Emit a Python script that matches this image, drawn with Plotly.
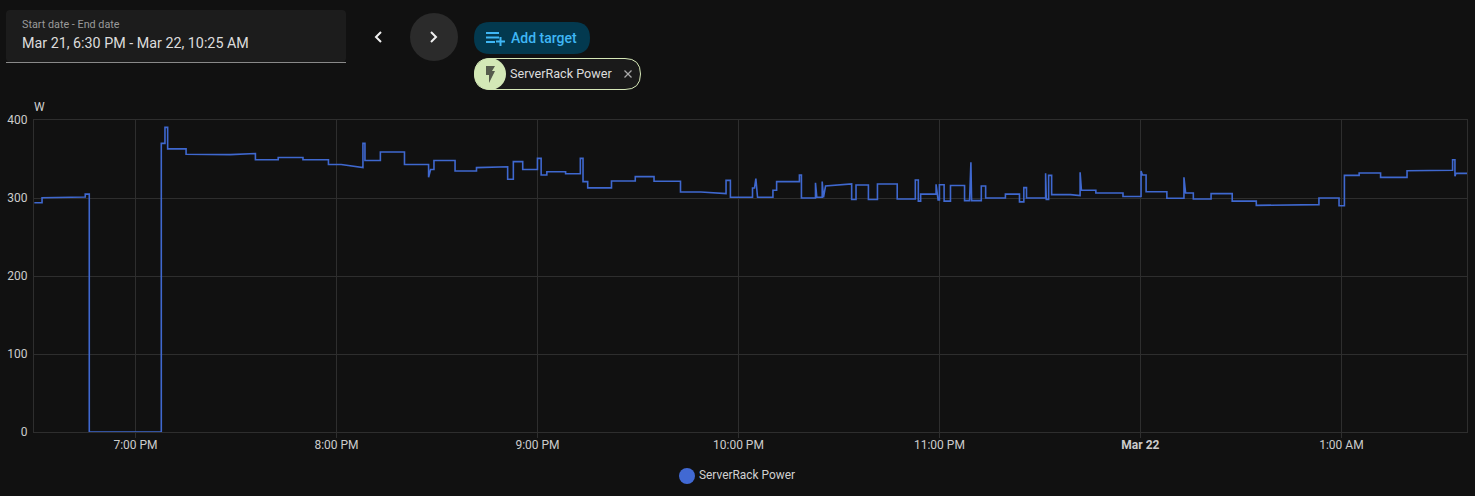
import pandas as pd
import plotly.graph_objects as go

# Power readings: minutes after 18:30 and watts at each vertex of the trace
minutes = [
    0, 2.3, 2.3, 15.2, 15.2, 16.4, 16.4, 37.9, 37.9, 39.0, 39.0, 39.8, 39.8, 45.3, 45.3, 58.5, 66.0, 66.0,
    72.8, 72.8, 80.2, 80.2, 87.8, 87.8, 91.6, 98.1, 98.1, 98.7, 98.7, 103.3, 103.3, 110.5, 110.5, 117.7,
    117.7, 118.3, 119.3, 119.3, 125.6, 125.6, 132.0, 132.0, 141.3, 141.3, 143.0, 143.0, 145.8, 145.8,
    150.2, 150.2, 151.3, 151.3, 153.0, 153.0, 158.6, 158.6, 163.0, 163.0, 163.8, 163.8, 165.2, 165.2,
    172.3, 172.3, 179.4, 179.4, 185.0, 185.0, 192.9, 192.9, 199.0, 206.5, 206.5, 207.8, 207.8, 214.4,
    214.4, 215.0, 215.4, 215.9, 220.5, 220.5, 221.6, 221.6, 228.4, 228.4, 229.0, 229.0, 233.2, 233.2,
    233.6, 235.2, 235.2, 235.6, 236.2, 244.0, 244.0, 245.3, 245.3, 249.0, 249.0, 251.7, 251.7, 257.6,
    257.6, 263.0, 263.0, 263.9, 263.9, 264.6, 264.6, 269.2, 269.2, 269.8, 270.2, 270.2, 271.6, 271.6,
    273.5, 273.5, 277.7, 277.7, 279.2, 279.6, 279.8, 282.7, 282.7, 284.0, 284.0, 289.9, 289.9, 294.1,
    294.1, 295.4, 295.4, 296.2, 296.2, 301.9, 301.9, 302.1, 302.8, 302.8, 303.7, 303.7, 309.3, 312.2,
    312.2, 312.6, 316.9, 316.9, 325.0, 325.0, 330.4, 330.4, 330.8, 331.9, 331.9, 338.1, 338.1, 343.2,
    343.2, 343.7, 346.0, 346.0, 351.3, 351.3, 357.6, 357.6, 364.8, 364.8, 383.5, 383.5, 389.5, 389.5,
    391.1, 391.1, 395.5, 395.5, 401.9, 401.9, 409.8, 409.8, 423.4, 423.4, 424.1, 424.1, 424.4, 427.8,
]
watts = [
    294, 294, 300.4, 301.3, 305, 305, 0, 0, 370, 370, 390.6, 390.6, 363, 363, 356, 355.6, 357, 349,
    349, 352, 352, 349, 349, 343, 343, 339, 370, 370, 348, 348, 359, 359, 343, 343,
    326.5, 336.6, 336.6, 348, 348, 334.6, 334.6, 339, 340, 324, 324, 346.6, 346.6, 336.6,
    336.6, 350.8, 350.8, 329.5, 329.5, 333.7, 333.7, 331, 331, 350.8, 350.8, 321, 321, 313,
    313, 321.8, 321.8, 327.4, 327.4, 321.4, 321.4, 307.7, 307.7, 305.6, 322.6, 322.6, 300.9, 300.9,
    312.8, 312.8, 325, 301, 301, 310, 310, 321, 321, 329.5, 329.5, 300, 300, 319.6,
    300.9, 300.9, 321, 300.9, 315.4, 318, 298, 298, 316.7, 316.7, 298, 298, 318, 318,
    298.7, 298.7, 323, 323, 296, 296, 305, 305, 317.5, 297.4, 297.4, 317, 317, 296,
    296, 316, 316, 296.6, 296.6, 345.7, 296.6, 296.6, 315.4, 315.4, 300, 300, 305, 305,
    295, 295, 313.3, 313.3, 300, 300, 331.6, 298.3, 298.3, 329, 329, 304.3, 304.3, 303,
    333, 310, 310, 306.4, 306.4, 302, 302, 334.6, 329.5, 329.5, 308, 308, 299.6, 299.6,
    326.5, 306.4, 306.4, 298.7, 298.7, 305.6, 305.6, 296, 296, 290.6, 291.5, 300, 300, 290,
    290, 329, 329, 332, 332, 326.5, 326.5, 335, 335.5, 349, 349, 328, 331.6, 331.6,
]
hour_ticks = ["2024-03-21 19:00", "2024-03-21 20:00", "2024-03-21 21:00", "2024-03-21 22:00",
              "2024-03-21 23:00", "2024-03-22 00:00", "2024-03-22 01:00"]
hour_labels = ["7:00 PM", "8:00 PM", "9:00 PM", "10:00 PM", "11:00 PM", "<b>Mar 22</b>", "1:00 AM"]
y_ticks = [0, 100, 200, 300, 400]
series_name = "ServerRack Power"
date_caption = "Start date - End date"
date_range = "Mar 21, 6:30 PM - Mar 22, 10:25 AM"

WIDTH, HEIGHT = 1475, 496
LEFT, RIGHT, TOP, BOTTOM = 34, 8, 120, 64
PLOT_W, PLOT_H = WIDTH - LEFT - RIGHT, HEIGHT - TOP - BOTTOM
FONT = "Roboto"
start = pd.Timestamp("2024-03-21 18:30")
# The first reading lands a few seconds before 18:30
times = [start + pd.Timedelta(minutes=m - 0.2) for m in minutes]


def px(x):
    return (x - LEFT) / PLOT_W


def py(y):
    return 1 - (y - TOP) / PLOT_H


def rounded(x0, y0, x1, y1, r, **kw):
    # Rounded rectangle in page pixels, expressed in paper coordinates
    p = (f"M {px(x0 + r)} {py(y0)} L {px(x1 - r)} {py(y0)} Q {px(x1)} {py(y0)} {px(x1)} {py(y0 + r)} "
         f"L {px(x1)} {py(y1 - r)} Q {px(x1)} {py(y1)} {px(x1 - r)} {py(y1)} L {px(x0 + r)} {py(y1)} "
         f"Q {px(x0)} {py(y1)} {px(x0)} {py(y1 - r)} L {px(x0)} {py(y0 + r)} Q {px(x0)} {py(y0)} {px(x0 + r)} {py(y0)} Z")
    return dict(type="path", xref="paper", yref="paper", path=p, layer="above", **kw)


def circle(cx, cy, r, color):
    return dict(type="circle", xref="paper", yref="paper", x0=px(cx - r), x1=px(cx + r),
                y0=py(cy + r), y1=py(cy - r), fillcolor=color, line=dict(width=0), layer="above")


def stroke(points, color, width=2):
    p = "M " + " L ".join(f"{px(x)} {py(y)}" for x, y in points)
    return dict(type="path", xref="paper", yref="paper", path=p, layer="above",
                line=dict(color=color, width=width))


def label(x, y, text, size, color, anchor="left"):
    return dict(xref="paper", yref="paper", x=px(x), y=py(y), text=text, showarrow=False, xanchor=anchor,
                yanchor="middle", font=dict(family=FONT, size=size, color=color), align=anchor)


BLUE = "#3fb7f5"
shapes = [
    # date range field
    rounded(6, 10, 346, 62, 4, fillcolor="#1c1c1c", line=dict(width=0)),
    stroke([(6, 62.5), (346, 62.5)], "#8a8a8a", 1),
    # previous / next buttons
    stroke([(381, 32), (376, 37), (381, 42)], "#f0f0f0"),
    circle(434, 37, 24, "#2b2b2b"),
    stroke([(431, 32), (436, 37), (431, 42)], "#f0f0f0"),
    # add-target pill and icon
    rounded(474, 22, 590, 54, 16, fillcolor="#03394f", line=dict(width=0)),
    stroke([(486, 33), (499, 33)], BLUE), stroke([(486, 37.5), (499, 37.5)], BLUE),
    stroke([(486, 42), (495, 42)], BLUE), stroke([(496, 41.5), (505, 41.5)], BLUE), stroke([(500.5, 37), (500.5, 46)], BLUE),
    # target chip
    rounded(474.5, 58.5, 640.5, 89.5, 15.5, fillcolor="#1a1a1a", line=dict(color="#d6e8b8", width=1)),
    circle(490, 74, 16, "#d3e8b6"),
    dict(type="path", xref="paper", yref="paper", layer="above", fillcolor="#555b4c", line=dict(width=0),
         path=(f"M {px(486)} {py(66)} L {px(495)} {py(66)} L {px(492)} {py(71)} L {px(495)} {py(71)} "
               f"L {px(489)} {py(83)} L {px(489)} {py(75)} L {px(486)} {py(75)} Z")),
    stroke([(624.5, 70.5), (631.5, 77.5)], "#a8a8a8", 1.2), stroke([(631.5, 70.5), (624.5, 77.5)], "#a8a8a8", 1.2),
    # legend marker
    circle(687, 476, 8, "#4169d3"),
]
annotations = [
    label(20, 24, date_caption, 10.8, "#9a9a9a"),
    label(20, 43, date_range, 14.3, "#dcdcdc"),
    label(509, 38, "Add target", 14, BLUE),
    label(508, 73, series_name, 12.6, "#dcdcdc"),
    label(32, 107.5, "W", 12, "#d0d0d0"),
    label(697, 475, series_name, 11.9, "#d0d0d0"),
]
annotations[2]["font"]["weight"] = 500

fig = go.Figure(go.Scatter(x=times, y=watts, mode="lines", name=series_name,
                           line=dict(color="#3f68cf", width=1.6), hoverinfo="x+y"))
fig.update_layout(
    width=WIDTH, height=HEIGHT, margin=dict(l=LEFT, r=RIGHT, t=TOP, b=BOTTOM, autoexpand=False),
    paper_bgcolor="#111111", plot_bgcolor="#111111", showlegend=False,
    font=dict(family=FONT, size=12, color="#cccccc"), shapes=shapes, annotations=annotations,
)
# A short lead on the time range keeps hour lines on whole pixels
range_start = start - pd.Timedelta(minutes=0.3)
fig.update_xaxes(range=[range_start, range_start + pd.Timedelta(minutes=427.8)], tickmode="array",
                 tickvals=hour_ticks, ticktext=hour_labels, showgrid=True, gridcolor="#2e2e2e", gridwidth=1,
                 ticks="outside", ticklen=5, tickcolor="#2e2e2e", showline=True, linecolor="#2e2e2e",
                 mirror=True, zeroline=False, ticklabelstandoff=-3)
fig.update_yaxes(range=[0, 400], tickmode="array", tickvals=y_ticks, showgrid=True, gridcolor="#2e2e2e",
                 gridwidth=1, ticks="", showline=True, linecolor="#2e2e2e", mirror=True, zeroline=False,
                 ticklabelstandoff=3)
fig.write_html("out.html")
